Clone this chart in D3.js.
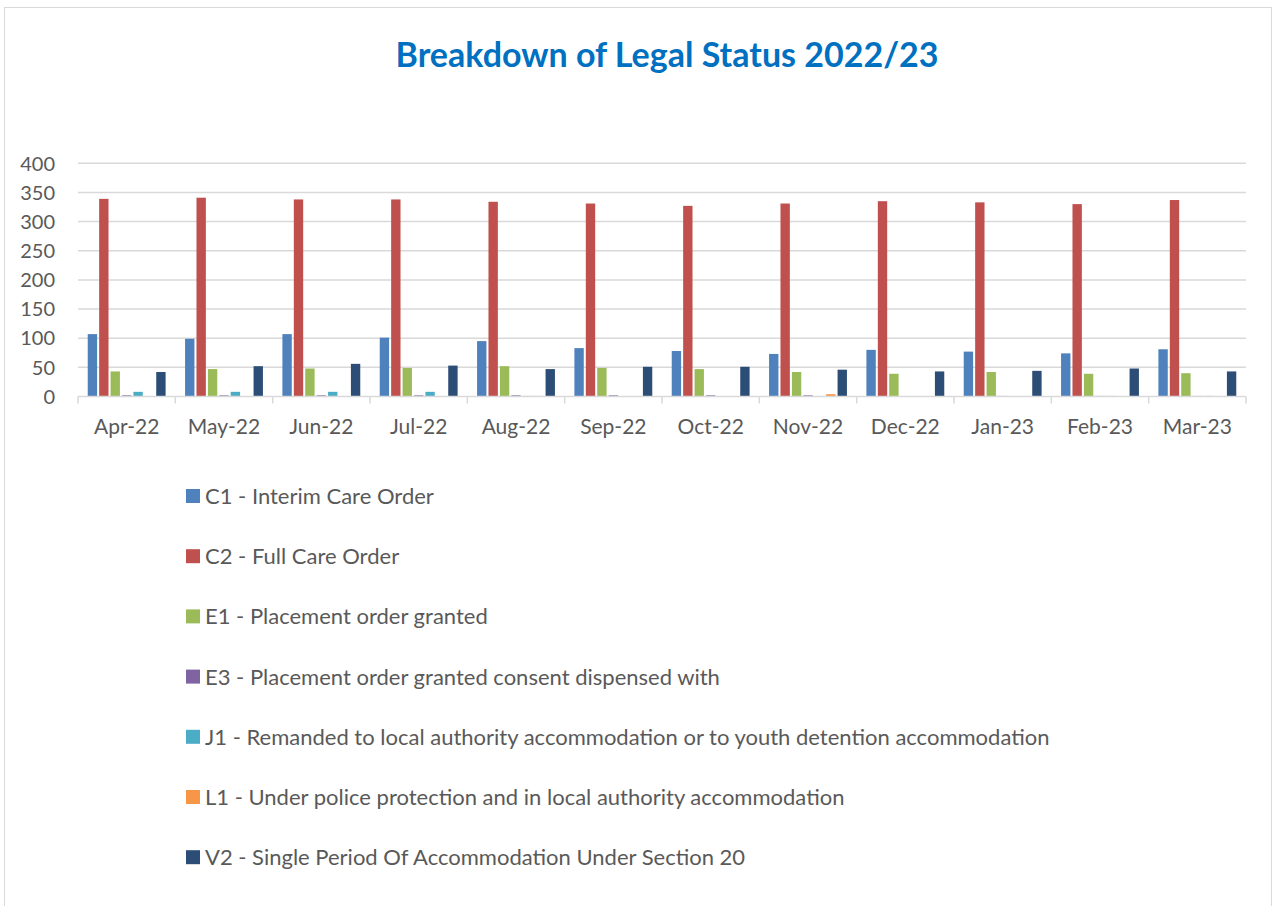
<!DOCTYPE html>
<html>
<head>
<meta charset="utf-8">
<script src="https://cdn.jsdelivr.net/npm/d3@7"></script>
<style>
  body { margin: 0; background: #fff; }
  svg { display: block; font-family: Lato, "Open Sans", sans-serif; }
</style>
</head>
<body>
<div id="chart"></div>
<script>
// Breakdown of legal status, monthly counts 2022/23

var months = ["Apr-22", "May-22", "Jun-22", "Jul-22", "Aug-22", "Sep-22",
              "Oct-22", "Nov-22", "Dec-22", "Jan-23", "Feb-23", "Mar-23"];

var seriesNames = [
  "C1 - Interim Care Order",
  "C2 - Full Care Order",
  "E1 - Placement order granted",
  "E3 - Placement order granted consent dispensed with",
  "J1 - Remanded to local authority accommodation or to youth detention accommodation",
  "L1 - Under police protection and in local authority accommodation",
  "V2 - Single Period Of Accommodation Under Section 20"
];

var c1 = [107, 99, 107, 101, 95, 83, 78, 73, 80, 77, 74, 81];
var c2 = [339, 341, 338, 338, 334, 331, 327, 331, 335, 333, 330, 337];
var e1 = [43, 47, 48, 49, 52, 49, 47, 42, 39, 42, 39, 40];
var e3 = [2, 2, 2, 2, 2, 2, 2, 2, 0, 1, 1, 1];
var j1 = [8, 8, 8, 8, 1, 0, 0, 0, 0, 0, 1, 1];
var l1 = [0, 0, 0, 0, 1, 0, 0, 4, 0, 0, 0, 0];
var v2 = [42, 52, 56, 53, 47, 51, 51, 46, 43, 44, 48, 43];

var yTicks = [0, 50, 100, 150, 200, 250, 300, 350, 400];

var colors = ["#4F81BD", "#C0504D", "#9BBB59", "#8064A2", "#4BACC6", "#F79646", "#2C4D75"];

var allSeries = [c1, c2, e1, e3, j1, l1, v2];

var width = 1277, height = 906;
var textColor = "#595959";

var svg = d3.select("#chart").append("svg")
  .attr("width", width)
  .attr("height", height);

// chart frame
svg.append("rect")
  .attr("x", 4.5).attr("y", 7.5)
  .attr("width", 1267).attr("height", 910)
  .style("fill", "#fff")
  .style("stroke", "#D9D9D9")
  .style("stroke-width", 1);

// title
svg.append("text")
  .attr("x", 667).attr("y", 67)
  .style("text-anchor", "middle")
  .style("font-size", "34px")
  .style("font-weight", "bold")
  .style("fill", "#0070C0")
  .text("Breakdown of Legal Status 2022/23");

// scales
var x0 = d3.scaleBand()
  .domain(months)
  .range([78, 1246])
  .paddingInner(0.2)
  .paddingOuter(0.1);

var x1 = d3.scaleBand()
  .domain(d3.range(seriesNames.length))
  .range([0, x0.bandwidth()])
  .paddingInner(0.18);

var y = d3.scaleLinear()
  .domain([0, 400])
  .range([396.5, 163.3]);

// gridlines
svg.append("g").selectAll("line")
  .data(yTicks.slice(1))
  .enter().append("line")
  .attr("x1", 78).attr("x2", 1246)
  .attr("y1", function(d) { return y(d); })
  .attr("y2", function(d) { return y(d); })
  .style("stroke", "#D9D9D9")
  .style("stroke-width", 1.5);

// y labels
svg.append("g").selectAll("text")
  .data(yTicks)
  .enter().append("text")
  .attr("x", 55)
  .attr("y", function(d) { return y(d); })
  .attr("dy", "0.36em")
  .style("text-anchor", "end")
  .style("font-size", "20px")
  .style("fill", textColor)
  .text(function(d) { return d; });

// bars
var groups = svg.append("g").selectAll("g")
  .data(months)
  .enter().append("g")
  .attr("transform", function(d) { return "translate(" + x0(d) + ",0)"; });

groups.selectAll("rect")
  .data(function(m, i) {
    return allSeries.map(function(s, k) { return { k: k, v: s[i] }; });
  })
  .enter().append("rect")
  .attr("x", function(d) { return x1(d.k); })
  .attr("width", x1.bandwidth())
  .attr("y", function(d) { return y(d.v); })
  .attr("height", function(d) { return y(0) - y(d.v); })
  .style("fill", function(d) { return colors[d.k]; });

// x axis
var xAxis = d3.axisBottom(x0).tickSize(0).tickPadding(23);
var gx = svg.append("g")
  .attr("transform", "translate(0," + y(0) + ")")
  .call(xAxis);
gx.select(".domain").remove();
gx.selectAll("text")
  .style("font-family", "Lato, 'Open Sans', sans-serif")
  .style("font-size", "21px")
  .style("fill", textColor);

gx.append("line")
  .attr("x1", 78).attr("x2", 1246)
  .style("stroke", "#D9D9D9").style("stroke-width", 1.5);

// category separators
var step = x0.step();
gx.selectAll(".sep")
  .data(d3.range(months.length + 1))
  .enter().append("line")
  .attr("class", "sep")
  .attr("x1", function(i) { return 78 + i * step; })
  .attr("x2", function(i) { return 78 + i * step; })
  .attr("y1", 0).attr("y2", 7)
  .style("stroke", "#D9D9D9").style("stroke-width", 1.5);

// legend
var legend = svg.append("g").selectAll("g")
  .data(seriesNames)
  .enter().append("g")
  .attr("transform", function(d, i) { return "translate(186," + (496 + i * 60.2) + ")"; });

legend.append("rect")
  .attr("x", 0).attr("y", -7)
  .attr("width", 14).attr("height", 14)
  .style("fill", function(d, i) { return colors[i]; });

legend.append("text")
  .attr("x", 19)
  .attr("dy", "0.36em")
  .style("font-size", "22px")
  .style("fill", textColor)
  .text(function(d) { return d; });
</script>
</body>
</html>
